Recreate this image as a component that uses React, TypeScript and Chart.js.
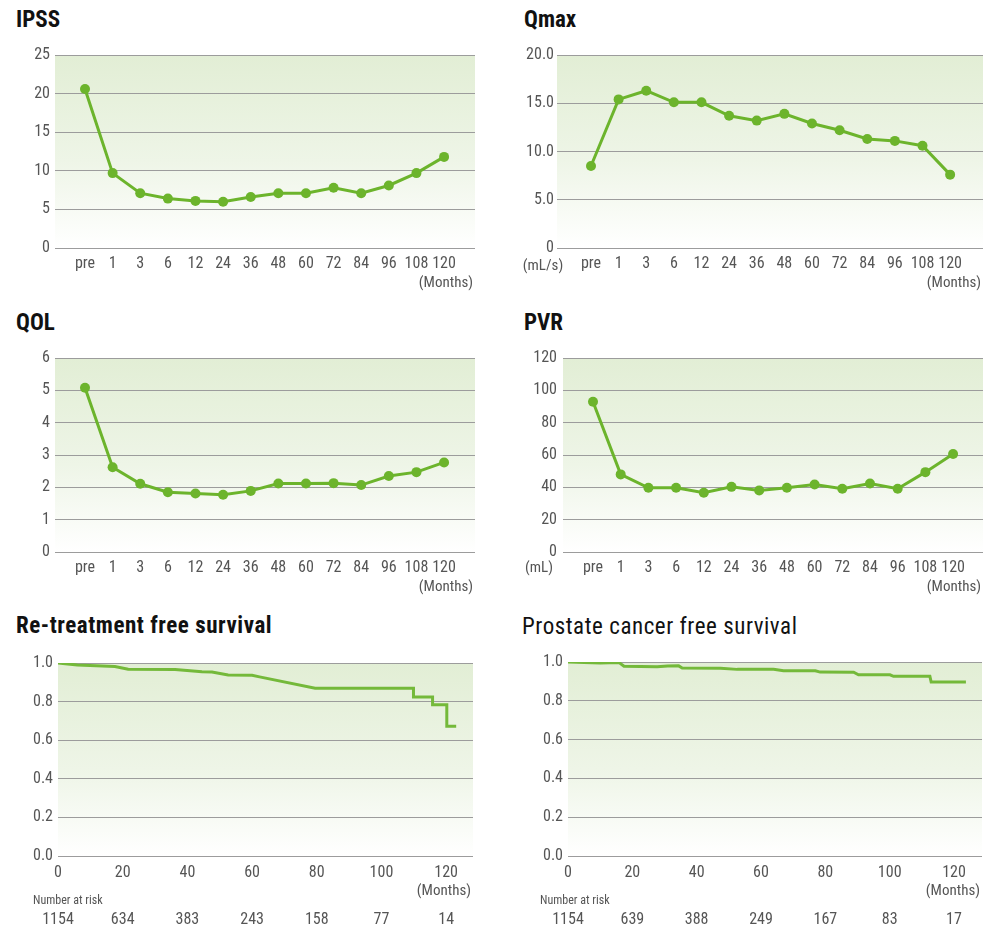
import React, { useEffect, useRef } from 'react';
import { Chart, registerables } from 'chart.js';

Chart.register(...registerables);

// ---------- data ----------
const visitLabels = ['pre', '1', '3', '6', '12', '24', '36', '48', '60', '72', '84', '96', '108', '120'];

const ipssValues = [20.6, 9.7, 7.1, 6.4, 6.1, 6.0, 6.6, 7.1, 7.1, 7.8, 7.1, 8.1, 9.7, 11.8];
const ipssTicks = [0, 5, 10, 15, 20, 25];
const ipssTickLabels = ['0', '5', '10', '15', '20', '25'];

const qmaxValues = [8.5, 15.4, 16.3, 15.1, 15.1, 13.7, 13.2, 13.9, 12.9, 12.2, 11.3, 11.1, 10.6, 7.6];
const qmaxTicks = [0, 5, 10, 15, 20];
const qmaxTickLabels = ['0', '5.0', '10.0', '15.0', '20.0'];

const qolValues = [5.08, 2.62, 2.11, 1.85, 1.81, 1.77, 1.89, 2.12, 2.12, 2.13, 2.07, 2.35, 2.47, 2.77];
const qolTicks = [0, 1, 2, 3, 4, 5, 6];
const qolTickLabels = ['0', '1', '2', '3', '4', '5', '6'];

const pvrValues = [92.9, 48.0, 39.7, 39.7, 36.6, 40.3, 38.1, 39.7, 41.8, 39.1, 42.4, 39.1, 49.4, 60.6];
const pvrTicks = [0, 20, 40, 60, 80, 100, 120];
const pvrTickLabels = ['0', '20', '40', '60', '80', '100', '120'];

const survivalTicks = [0, 0.2, 0.4, 0.6, 0.8, 1.0];
const survivalTickLabels = ['0.0', '0.2', '0.4', '0.6', '0.8', '1.0'];
const monthTicks = [0, 20, 40, 60, 80, 100, 120];

const retreatMonths = [0, 3, 6, 17.6, 21.7, 36.2, 44.5, 47.6, 52.6, 60.0, 62.3, 79.5, 109.9, 109.9, 115.8, 115.8, 120.2, 120.2, 123.1];
const retreatSurvival = [1.0, 0.995, 0.99, 0.982, 0.968, 0.966, 0.955, 0.953, 0.938, 0.936, 0.928, 0.869, 0.869, 0.824, 0.824, 0.784, 0.784, 0.672, 0.672];
const retreatAtRisk = ['1154', '634', '383', '243', '158', '77', '14'];

const cancerMonths = [0, 10, 15.8, 17.4, 27.7, 31, 34.4, 35.5, 47.4, 52.6, 63.9, 67, 76.9, 78.4, 88.8, 90.3, 100.1, 101.2, 112.5, 112.9, 123.7];
const cancerSurvival = [1.0, 0.995, 0.998, 0.978, 0.976, 0.979, 0.98, 0.969, 0.968, 0.962, 0.962, 0.955, 0.955, 0.948, 0.947, 0.934, 0.934, 0.926, 0.926, 0.897, 0.897];
const cancerAtRisk = ['1154', '639', '388', '249', '167', '83', '17'];

// ---------- style ----------
const FONT = "'Roboto Condensed', 'DejaVu Sans Condensed', 'Liberation Sans', sans-serif";
const GREEN = '#6cb42c';
const GREEN_KM = '#74b93a';
const TEXT = '#555555';
const GRID = '#9c9c9c';

type Box = [number, number, number, number];
type Area = [number, number, number, number];

const decoPlugin = {
  id: 'deco',
  beforeDraw(chart: any) {
    const { ctx, chartArea: a } = chart;
    const g = ctx.createLinearGradient(0, a.top, 0, a.bottom);
    g.addColorStop(0, '#e2eed5');
    g.addColorStop(0.55, '#eef5e7');
    g.addColorStop(1, '#ffffff');
    ctx.save();
    ctx.fillStyle = g;
    ctx.fillRect(a.left, a.top, a.right - a.left, a.bottom - a.top);
    ctx.restore();
  },
  afterDraw(chart: any, _args: any, opts: any) {
    const { ctx, chartArea: a } = chart;
    ctx.save();
    ctx.fillStyle = TEXT;
    ctx.textBaseline = 'middle';
    ctx.font = `15px ${FONT}`;
    ctx.textAlign = 'right';
    ctx.fillText('(Months)', a.right - 2, a.bottom + 35);
    if (opts.unit) {
      ctx.textAlign = 'center';
      ctx.fillText(opts.unit, a.left + opts.unitDx, a.bottom + opts.unitDy);
    }
    if (opts.atRisk) {
      ctx.textAlign = 'left';
      ctx.font = `12px ${FONT}`;
      ctx.fillText('Number at risk', a.left + opts.riskDx, a.bottom + 45);
      ctx.font = `16px ${FONT}`;
      ctx.textAlign = 'center';
      const xs = chart.scales.x;
      opts.atRisk.forEach((n: string, i: number) => {
        ctx.fillText(n, xs.getPixelForValue(monthTicks[i]), a.bottom + 64);
      });
    }
    ctx.restore();
  },
};

function frame(box: Box, area: Area) {
  const [bx, by, bw, bh] = box;
  const [L, T, R, B] = area;
  return {
    padding: { left: 0, top: T - by, right: bx + bw - R, bottom: 0 },
    yWidth: L - bx,
    xHeight: by + bh - B,
  };
}

function yScale(f: any, min: number, max: number, ticks: number[], labels: string[], pad: number) {
  return {
    type: 'linear',
    min,
    max,
    afterBuildTicks: (s: any) => {
      s.ticks = ticks.map((v) => ({ value: v }));
    },
    afterFit: (s: any) => {
      s.width = f.yWidth;
    },
    ticks: {
      callback: (_v: any, i: number) => labels[i],
      color: TEXT,
      font: { family: FONT, size: 16 },
      padding: pad,
    },
    grid: { color: GRID, lineWidth: 1, drawTicks: false },
    border: { display: false },
  };
}

function trendConfig(box: Box, area: Area, values: number[], yMax: number, ticks: number[], labels: string[], xMin: number, xMax: number, yPad: number, unit?: { text: string; dx: number; dy: number }) {
  const f = frame(box, area);
  return {
    type: 'line',
    data: {
      datasets: [
        {
          data: values.map((v, i) => ({ x: i, y: v })),
          borderColor: GREEN,
          backgroundColor: GREEN,
          borderWidth: 3,
          pointRadius: 5,
          pointBorderWidth: 0,
          pointBackgroundColor: GREEN,
          tension: 0,
        },
      ],
    },
    options: {
      responsive: false,
      animation: false,
      events: [],
      layout: { padding: f.padding },
      plugins: {
        legend: { display: false },
        tooltip: { enabled: false },
        deco: unit ? { unit: unit.text, unitDx: unit.dx, unitDy: unit.dy } : {},
      },
      scales: {
        x: {
          type: 'linear',
          min: xMin,
          max: xMax,
          afterBuildTicks: (s: any) => {
            s.ticks = visitLabels.map((_l, i) => ({ value: i }));
          },
          afterFit: (s: any) => {
            s.height = f.xHeight;
          },
          ticks: {
            callback: (_v: any, i: number) => visitLabels[i],
            autoSkip: false,
            maxRotation: 0,
            color: TEXT,
            font: { family: FONT, size: 16 },
            padding: 6,
          },
          grid: { display: false, drawTicks: false },
          border: { display: false },
        },
        y: yScale(f, 0, yMax, ticks, labels, yPad),
      },
    },
    plugins: [decoPlugin],
  };
}

function survivalConfig(box: Box, area: Area, months: number[], surv: number[], atRisk: string[], xMax: number, riskDx: number) {
  const f = frame(box, area);
  return {
    type: 'line',
    data: {
      datasets: [
        {
          data: months.map((m, i) => ({ x: m, y: surv[i] })),
          borderColor: GREEN_KM,
          borderWidth: 3,
          pointRadius: 0,
          tension: 0,
        },
      ],
    },
    options: {
      responsive: false,
      animation: false,
      events: [],
      layout: { padding: f.padding },
      plugins: {
        legend: { display: false },
        tooltip: { enabled: false },
        deco: { atRisk, riskDx },
      },
      scales: {
        x: {
          type: 'linear',
          min: 0,
          max: xMax,
          afterBuildTicks: (s: any) => {
            s.ticks = monthTicks.map((v) => ({ value: v }));
          },
          afterFit: (s: any) => {
            s.height = f.xHeight;
          },
          ticks: {
            callback: (v: any) => String(v),
            autoSkip: false,
            maxRotation: 0,
            color: TEXT,
            font: { family: FONT, size: 16 },
            padding: 7,
          },
          grid: { display: false, drawTicks: false },
          border: { display: false },
        },
        y: yScale(f, 0, 1, survivalTicks, survivalTickLabels, 5),
      },
    },
    plugins: [decoPlugin],
  };
}

function ChartPanel({ box, make }: { box: Box; make: () => any }) {
  const ref = useRef<HTMLCanvasElement>(null);
  useEffect(() => {
    const chart = new Chart(ref.current as HTMLCanvasElement, make());
    return () => chart.destroy();
  }, []);
  return (
    <canvas
      ref={ref}
      width={box[2]}
      height={box[3]}
      style={{ position: 'absolute', left: box[0], top: box[1], width: box[2], height: box[3] }}
    />
  );
}

function Title({ text, left, baseline, bold = true, spacing = 0 }: { text: string; left: number; baseline: number; bold?: boolean; spacing?: number }) {
  return (
    <div
      style={{
        position: 'absolute',
        left,
        top: baseline - 19.5,
        fontFamily: FONT,
        fontSize: 23,
        lineHeight: '23px',
        letterSpacing: spacing,
        fontWeight: bold ? 'bold' : 'normal',
        color: '#111',
        whiteSpace: 'nowrap',
      }}
    >
      {text}
    </div>
  );
}

export default function App() {
  const ipssBox: Box = [0, 40, 500, 260];
  const qmaxBox: Box = [500, 40, 500, 260];
  const qolBox: Box = [0, 340, 500, 260];
  const pvrBox: Box = [500, 340, 500, 260];
  const retreatBox: Box = [0, 640, 500, 297];
  const cancerBox: Box = [500, 640, 500, 297];
  return (
    <div style={{ position: 'absolute', left: 0, top: 0, width: 1000, height: 937, background: '#fff', overflow: 'hidden' }}>
      <Title text="IPSS" left={16} baseline={27} />
      <Title text="Qmax" left={524} baseline={27} />
      <Title text="QOL" left={16} baseline={330} />
      <Title text="PVR" left={524} baseline={330} />
      <Title text="Re-treatment free survival" left={16} baseline={633} spacing={0.55} />
      <Title text="Prostate cancer free survival" left={522} baseline={634} bold={false} spacing={0.55} />
      <ChartPanel box={ipssBox} make={() => trendConfig(ipssBox, [55, 55, 475, 248], ipssValues, 25, ipssTicks, ipssTickLabels, -1.086, 14.12, 5)} />
      <ChartPanel box={qmaxBox} make={() => trendConfig(qmaxBox, [557, 55, 983, 248], qmaxValues, 20, qmaxTicks, qmaxTickLabels, -1.23, 14.19, 3, { text: '(mL/s)', dx: -14, dy: 18 })} />
      <ChartPanel box={qolBox} make={() => trendConfig(qolBox, [55, 358, 475, 552], qolValues, 6, qolTicks, qolTickLabels, -1.086, 14.12, 5)} />
      <ChartPanel box={pvrBox} make={() => trendConfig(pvrBox, [563, 358, 983, 552], pvrValues, 120, pvrTicks, pvrTickLabels, -1.083, 14.08, 6, { text: '(mL)', dx: -24, dy: 16 })} />
      <ChartPanel box={retreatBox} make={() => survivalConfig(retreatBox, [58, 663, 473, 856], retreatMonths, retreatSurvival, retreatAtRisk, 128.3, -25)} />
      <ChartPanel box={cancerBox} make={() => survivalConfig(cancerBox, [568, 662, 982, 856], cancerMonths, cancerSurvival, cancerAtRisk, 128.7, -28)} />
    </div>
  );
}
